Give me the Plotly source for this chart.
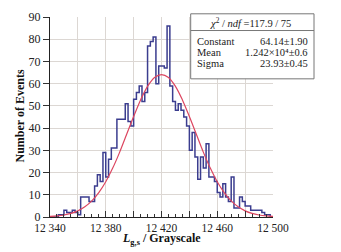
import plotly.graph_objects as go

# ---- data ----
bin_start = 12340
bin_width = 2
counts = [0, 0, 0, 1, 1, 3, 2, 2, 3, 2,
          1, 9, 9, 9, 7, 7, 14, 19, 16, 29,
          18, 26, 31, 31, 44, 44, 44, 51, 43, 41,
          53, 56, 59, 52, 56, 77, 79, 81, 60, 68,
          68, 67, 86, 59, 52, 48, 51, 48, 45, 41,
          30, 38, 27, 17, 27, 22, 33, 18, 18, 16,
          11, 9, 15, 9, 7, 18, 4, 4, 9, 7,
          5, 5, 3, 3, 3, 3, 2, 1, 1, 0]

fit_x = [12340, 12345, 12350, 12355, 12360, 12365, 12370, 12375, 12380, 12385,
         12390, 12395, 12400, 12405, 12410, 12415, 12420, 12425, 12430, 12435,
         12440, 12445, 12450, 12455, 12460, 12465, 12470, 12475, 12480, 12485,
         12490, 12495, 12500]
fit_y = [0.24, 0.47, 0.89, 1.60, 2.77, 4.57, 7.23, 10.95, 15.86, 22.0,
         29.2, 37.2, 45.2, 52.7, 58.8, 62.8, 64.1, 62.8, 58.8, 52.7,
         45.2, 37.2, 29.2, 22.0, 15.86, 10.95, 7.23, 4.57, 2.77, 1.60,
         0.89, 0.47, 0.24]

x_tick_vals = [12340, 12380, 12420, 12460, 12500]
x_tick_text = ["12 340", "12 380", "12 420", "12 460", "12 500"]
y_tick_vals = [0, 10, 20, 30, 40, 50, 60, 70, 80, 90]

stat_names = ["Constant", "Mean", "Sigma"]
stat_values = ["64.14±1.90", "1.242×10⁴±0.6", "23.93±0.45"]
chi2_text = "<i>χ</i><sup>2</sup> / <i>ndf</i> =117.9 / 75"

# ---- build step outline ----
edges = [bin_start + i * bin_width for i in range(len(counts))]
x_end = bin_start + len(counts) * bin_width
xs = [edges[0]] + edges + [x_end, x_end]
ys = [0] + counts + [counts[-1], 0]

SERIF = "Liberation Serif, Times New Roman, serif"

# the page body offsets the figure by 8 px; compensate in the margins
OFF = 8
L, R, T, B = 50, 273, 10, 217          # target plot area on screen
W, H = 341, 252

fig = go.Figure()
fig.add_trace(go.Scatter(x=xs, y=ys, mode="lines", line_shape="hv",
                         line=dict(color="#3b3d8f", width=1.5),
                         hoverinfo="skip", showlegend=False))
fig.add_trace(go.Scatter(x=fit_x, y=fit_y, mode="lines", line_shape="spline",
                         line=dict(color="#dc4660", width=1.2), xaxis="x2",
                         hoverinfo="skip", showlegend=False))

def px(x):
    return (x - L) / (R - L)
def py(y):
    return (B - y) / (B - T)

fig.update_layout(
    width=W, height=H, autosize=False,
    margin=dict(l=L - OFF, r=W - R + OFF, t=T - OFF, b=H - B + OFF),
    paper_bgcolor="white", plot_bgcolor="white",
    font=dict(family=SERIF, color="#222222", size=12),
    xaxis=dict(range=[12340, 12500], tickvals=x_tick_vals, ticktext=x_tick_text,
               ticks="inside", ticklen=6, tickcolor="#333333",
               minor=dict(dtick=20, ticks="inside", ticklen=6, tickcolor="#333333",
                          showgrid=True, gridcolor="#dcd7d3", gridwidth=1),
               showgrid=True, gridcolor="#dcd7d3", gridwidth=1,
               showline=True, linecolor="#222222", linewidth=1.2,
               zeroline=False, tickfont=dict(family=SERIF, size=11.5, color="#222222")),
    xaxis2=dict(range=[12340, 12500], overlaying="x", anchor="y", side="bottom",
                dtick=5, tick0=12340, ticks="inside", ticklen=3, tickcolor="#333333",
                showticklabels=False, showgrid=False, showline=False, zeroline=False),
    yaxis=dict(range=[0, 90], tickvals=y_tick_vals, ticklabeloverflow="allow",
               ticks="outside", ticklen=6, tickcolor="#333333",
               showgrid=True, gridcolor="#dcd7d3", gridwidth=1,
               showline=True, linecolor="#222222", linewidth=1.2,
               zeroline=False, tickfont=dict(family=SERIF, size=12, color="#222222")),
)

def note(text, x, y, size, xanchor="center", yanchor="middle", angle=0, color="#222222"):
    fig.add_annotation(text=text, xref="paper", yref="paper", x=px(x), y=py(y),
                       xanchor=xanchor, yanchor=yanchor, textangle=angle,
                       showarrow=False, borderpad=0,
                       font=dict(family=SERIF, size=size, color=color))

# axis titles
note("<b>Number of Events</b>", 20, 113, 12, angle=-90, color="#111111")
note("<b><i>L</i><sub>g,s</sub> / Grayscale</b>", 161.5, 240, 12, color="#111111")

# stats box
fig.add_shape(type="rect", xref="paper", yref="paper",
              x0=px(190.7), x1=px(314), y0=py(74), y1=py(6.7),
              line=dict(color="#777777", width=1), fillcolor="white", layer="above")
fig.add_shape(type="line", xref="paper", yref="paper",
              x0=px(190.7), x1=px(314), y0=py(24), y1=py(24),
              line=dict(color="#777777", width=1), layer="above")
note(chi2_text, 250, 15.5, 10.5)
row_y = [35.7, 46.7, 58]
for name, val, yy in zip(stat_names, stat_values, row_y):
    note(name, 195.5, yy, 10.5, xanchor="left")
    note(val, 309, yy, 10.5, xanchor="right")

fig.write_html("out.html")
